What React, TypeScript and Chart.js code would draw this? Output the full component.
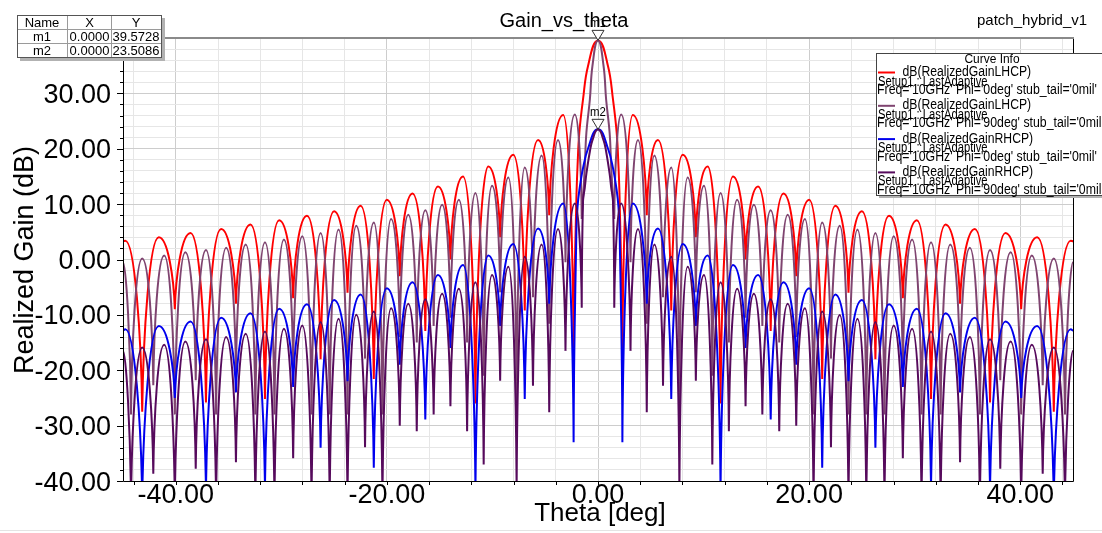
import React, { useEffect, useRef } from "react";
import { Chart, registerables } from "chart.js";

Chart.register(...registerables);

// ---------------- data ----------------
// Phi = 0 deg cut: theta samples (peaks / nulls / main-lobe shoulders)
const thetaPhi0 = [
  -45.0, -44.78, -43.18, -41.61, -40.09, -38.6, -37.14, -35.71, -34.3, -32.92,
  -31.55, -30.21, -28.88, -27.57, -26.28, -25.0, -23.73, -22.48, -21.24, -20.01,
  -18.78, -17.57, -16.36, -15.17, -13.98, -12.79, -11.61, -10.39, -9.27, -8.03,
  -6.94, -5.68, -4.62, -3.3, -2.31, -2.05, -1.94, -1.77, -1.42, -0.95,
  0,
  0.95, 1.42, 1.77, 1.94, 2.05, 2.31, 3.3, 4.62, 5.68, 6.94,
  8.03, 9.27, 10.39, 11.61, 12.79, 13.98, 15.17, 16.36, 17.57, 18.78,
  20.01, 21.24, 22.48, 23.73, 25.0, 26.28, 27.57, 28.88, 30.21, 31.55,
  32.92, 34.3, 35.71, 37.14, 38.6, 40.09, 41.61, 43.18, 44.78, 45.0,
];
// dB(RealizedGainLHCP), Phi = 0deg
const lhcpPhi0 = [
  3.3, 3.4, -27.5, 4.0, -9.0, 4.8, -25.8, 5.5, -8.0, 6.3,
  -25.2, 7.1, -7.0, 7.9, -18.0, 8.7, -6.0, 9.7, -21.6, 10.8,
  -3.0, 11.9, -12.9, 13.2, 0.0, 15.0, -26.0, 16.8, 4.0, 18.9,
  -9.2, 21.6, 8.0, 26.1, -17.0, 10.8, 16.8, 22.9, 28.9, 34.9,
  39.57,
  34.9, 28.9, 22.9, 16.8, 10.8, -17.0, 26.1, 8.0, 21.6, -9.2,
  18.9, 4.0, 16.8, -26.0, 15.0, 0.0, 13.2, -12.9, 11.9, -3.0,
  10.8, -21.6, 9.7, -6.0, 8.7, -18.0, 7.9, -7.0, 7.1, -25.2,
  6.3, -8.0, 5.5, -25.8, 4.8, -9.0, 4.0, -27.5, 3.4, 3.3,
];
// dB(RealizedGainRHCP), Phi = 0deg
const rhcpPhi0 = [
  -12.8, -12.6, -43.5, -12.0, -25.0, -11.2, -41.8, -10.5, -24.0, -9.7,
  -41.2, -8.9, -23.0, -8.1, -34.0, -7.3, -22.0, -6.3, -37.6, -5.2,
  -19.0, -4.1, -28.9, -2.8, -16.0, -1.0, -42.0, 0.7, -12.0, 2.8,
  -25.2, 5.6, -8.0, 10.1, -33.0, 5.0, 9.5, 12.5, 16.5, 20.0,
  23.51,
  20.0, 16.5, 12.5, 9.5, 5.0, -33.0, 10.1, -8.0, 5.6, -25.2,
  2.8, -12.0, 0.7, -42.0, -1.0, -16.0, -2.8, -28.9, -4.1, -19.0,
  -5.2, -37.6, -6.3, -22.0, -7.3, -34.0, -8.1, -23.0, -8.9, -41.2,
  -9.7, -24.0, -10.5, -41.8, -11.2, -25.0, -12.0, -43.5, -12.6, -12.8,
];

// Phi = 90 deg cut
const thetaPhi90 = [
  -45.0, -44.24, -43.18, -42.13, -41.1, -40.09, -39.09, -38.11, -37.14, -36.18,
  -35.23, -34.3, -33.37, -32.46, -31.55, -30.65, -29.76, -28.88, -28.01, -27.14,
  -26.28, -25.42, -24.58, -23.73, -22.9, -22.07, -21.24, -20.42, -19.6, -18.78,
  -17.97, -17.17, -16.36, -15.57, -14.77, -13.98, -13.18, -12.4, -11.61, -10.83,
  -10.04, -9.27, -8.49, -7.71, -6.94, -6.16, -5.34, -4.62, -3.79, -3.08,
  -2.2, -1.54, -1.42, -1.25, -1.1, -0.77, -0.53,
  0,
  0.53, 0.77, 1.1, 1.25, 1.42, 1.54, 2.2,
  3.08, 3.79, 4.62, 5.34, 6.16, 6.94, 7.71, 8.49, 9.27, 10.04,
  10.83, 11.61, 12.4, 13.18, 13.98, 14.77, 15.57, 16.36, 17.17, 17.97,
  18.78, 19.6, 20.42, 21.24, 22.07, 22.9, 23.73, 24.58, 25.42, 26.28,
  27.14, 28.01, 28.88, 29.76, 30.65, 31.55, 32.46, 33.37, 34.3, 35.23,
  36.18, 37.14, 38.11, 39.09, 40.09, 41.1, 42.13, 43.18, 44.24, 45.0,
];
// dB(RealizedGainLHCP), Phi = 90deg
const lhcpPhi90 = [
  -0.5, -28, 0.2, -22.7, 0.7, -28, 1.3, -21.8, 1.7, -28,
  2.1, -20.6, 2.7, -28, 3.1, -28, 3.6, -19.9, 4.2, -28,
  4.8, -28, 5.4, -28, 6.1, -17.9, 6.7, -28, 7.3, -14,
  8.1, -15, 8.9, -12, 9.9, -10.5, 10.8, -15, 12.0, -21,
  13.3, -5.9, 14.8, -26, 16.6, -6.8, 18.8, -11.6, 21.6, -0.5,
  26.2, 7.3, 10.8, 16.8, 22.9, 28.9, 34.9,
  39.57,
  34.9, 28.9, 22.9, 16.8, 10.8, 7.3, 26.2,
  -0.5, 21.6, -11.6, 18.8, -6.8, 16.6, -26, 14.8, -5.9, 13.3,
  -21, 12.0, -15, 10.8, -10.5, 9.9, -12, 8.9, -15, 8.1,
  -14, 7.3, -28, 6.7, -17.9, 6.1, -28, 5.4, -28, 4.8,
  -28, 4.2, -19.9, 3.6, -28, 3.1, -28, 2.7, -20.6, 2.1,
  -28, 1.7, -21.8, 1.3, -28, 0.7, -22.7, 0.2, -28, -0.5,
];
// dB(RealizedGainRHCP), Phi = 90deg
const rhcpPhi90 = [
  -16.5, -44, -15.9, -38.7, -15.4, -44, -14.8, -37.8, -14.4, -44,
  -14.0, -36.6, -13.4, -44, -13.0, -44, -12.5, -35.9, -11.9, -44,
  -11.3, -44, -10.7, -44, -10.0, -33.9, -9.4, -44, -8.8, -30,
  -8.0, -31, -7.2, -28, -6.2, -26.5, -5.3, -31, -4.1, -37,
  -2.8, -21.9, -1.3, -42, 0.5, -22.8, 2.7, -27.6, 5.5, -16.5,
  10.1, -8.7, 10.5, 13.0, 15.5, 19.5, 21.5,
  23.51,
  21.5, 19.5, 15.5, 13.0, 10.5, -8.7, 10.1,
  -16.5, 5.5, -27.6, 2.7, -22.8, 0.5, -42, -1.3, -21.9, -2.8,
  -37, -4.1, -31, -5.3, -26.5, -6.2, -28, -7.2, -31, -8.0,
  -30, -8.8, -44, -9.4, -33.9, -10.0, -44, -10.7, -44, -11.3,
  -44, -11.9, -35.9, -12.5, -44, -13.0, -44, -13.4, -36.6, -14.0,
  -44, -14.4, -37.8, -14.8, -44, -15.4, -38.7, -15.9, -44, -16.5,
];

// axes
const yGridValues = [
  -40, -38, -36, -34, -32, -30, -28, -26, -24, -22, -20, -18, -16, -14, -12, -10, -8, -6, -4, -2,
  0, 2, 4, 6, 8, 10, 12, 14, 16, 18, 20, 22, 24, 26, 28, 30, 32, 34, 36, 38, 40,
];
const xGridValues = [-44, -40, -36, -32, -28, -24, -20, -16, -12, -8, -4, 0, 4, 8, 12, 16, 20, 24, 28, 32, 36, 40, 44];
const yLabelValues = [30, 20, 10, 0, -10, -20, -30, -40];
const xLabelValues = [-40, -20, 0, 20, 40];

// markers
const markerNames = ["m1", "m2"];
const markerTheta = [0, 0];
const markerGain = [39.5728, 23.5086];

// legend text
const curveNames = [
  "dB(RealizedGainLHCP)",
  "dB(RealizedGainLHCP)",
  "dB(RealizedGainRHCP)",
  "dB(RealizedGainRHCP)",
];
const curveSetups = ["Setup1 : LastAdaptive", "Setup1 : LastAdaptive", "Setup1 : LastAdaptive", "Setup1 : LastAdaptive"];
const curveConditions = [
  "Freq='10GHz' Phi='0deg' stub_tail='0mil'",
  "Freq='10GHz' Phi='90deg' stub_tail='0mil'",
  "Freq='10GHz' Phi='0deg' stub_tail='0mil'",
  "Freq='10GHz' Phi='90deg' stub_tail='0mil'",
];

// ---------------- styles ----------------
const COLORS = ["#ff0000", "#7f4470", "#0000ee", "#560a5c"];
const FONT = "'Liberation Sans', Arial, Helvetica, sans-serif";

function drawText(
  ctx: CanvasRenderingContext2D,
  s: string,
  x: number,
  y: number,
  size: number,
  align: CanvasTextAlign = "left",
  sx = 1,
  color = "#000"
) {
  ctx.save();
  ctx.font = `${size}px ${FONT}`;
  ctx.fillStyle = color;
  ctx.textBaseline = "alphabetic";
  ctx.textAlign = align;
  ctx.translate(x, y);
  ctx.scale(sx, 1);
  ctx.fillText(s, 0, 0);
  ctx.restore();
}

// Control points: round lobe tops, sharp cusps at the nulls (dB pattern look)
const lobeCurvePlugin = {
  id: "lobeCurves",
  beforeDatasetDraw(chart: any, args: any) {
    const meta = args.meta;
    const pts = meta.data as any[];
    const n = pts.length;
    for (let i = 0; i < n; i++) {
      const p = pts[i];
      const prev = pts[i - 1];
      const next = pts[i + 1];
      if (!prev || !next) {
        const o = prev || next;
        const h = Math.abs(o.x - p.x) * 0.4;
        p.cp1x = p.x - h;
        p.cp1y = p.y;
        p.cp2x = p.x + h;
        p.cp2y = p.y;
        continue;
      }
      const isPeak = p.y <= prev.y && p.y <= next.y;
      const isNull = p.y >= prev.y && p.y >= next.y;
      if (isPeak) {
        p.cp1x = p.x - 0.55 * (p.x - prev.x);
        p.cp1y = p.y;
        p.cp2x = p.x + 0.55 * (next.x - p.x);
        p.cp2y = p.y;
      } else if (isNull) {
        p.cp1x = p.x - 0.06 * (p.x - prev.x);
        p.cp1y = p.y - 0.45 * (p.y - prev.y);
        p.cp2x = p.x + 0.06 * (next.x - p.x);
        p.cp2y = p.y - 0.45 * (p.y - next.y);
      } else {
        const dx = next.x - prev.x;
        const dy = next.y - prev.y;
        const d01 = Math.hypot(p.x - prev.x, p.y - prev.y);
        const d12 = Math.hypot(next.x - p.x, next.y - p.y);
        const s = d01 + d12 || 1;
        p.cp1x = p.x - (0.4 * dx * d01) / s;
        p.cp1y = p.y - (0.4 * dy * d01) / s;
        p.cp2x = p.x + (0.4 * dx * d12) / s;
        p.cp2y = p.y + (0.4 * dy * d12) / s;
      }
    }
    if (meta.dataset) meta.dataset._pointsUpdated = true;
  },
};

const decorPlugin = {
  id: "hfssDecor",
  afterDraw(chart: any) {
    const ctx: CanvasRenderingContext2D = chart.ctx;
    const a = chart.chartArea;
    const xs = chart.scales.x;
    const ys = chart.scales.y;

    ctx.save();
    // plot frame
    ctx.strokeStyle = "#000";
    ctx.lineWidth = 1;
    ctx.beginPath();
    ctx.moveTo(a.left + 0.5, a.top);
    ctx.lineTo(a.left + 0.5, a.bottom + 0.5);
    ctx.lineTo(a.right + 0.5, a.bottom + 0.5);
    ctx.lineTo(a.right + 0.5, a.top);
    ctx.stroke();
    ctx.strokeStyle = "#8a8a8a";
    ctx.lineWidth = 2;
    ctx.beginPath();
    ctx.moveTo(a.left, a.top);
    ctx.lineTo(a.right + 1, a.top);
    ctx.stroke();

    // ticks
    ctx.strokeStyle = "#000";
    ctx.lineWidth = 1;
    ctx.beginPath();
    for (const v of yGridValues) {
      const py = Math.round(ys.getPixelForValue(v)) + 0.5;
      const len = v % 10 === 0 ? 6 : 3;
      ctx.moveTo(a.left - len, py);
      ctx.lineTo(a.left, py);
    }
    for (const v of xGridValues) {
      const px = Math.round(xs.getPixelForValue(v)) + 0.5;
      ctx.moveTo(px, a.bottom);
      ctx.lineTo(px, a.bottom + 4);
    }
    ctx.stroke();
    ctx.restore();

    // tick labels
    for (const v of yLabelValues) {
      const py = ys.getPixelForValue(v);
      drawText(ctx, v.toFixed(2), 111, py + 9.6, 27, "right");
    }
    for (const v of xLabelValues) {
      const px = xs.getPixelForValue(v);
      drawText(ctx, v.toFixed(2), px, 503, 27, "center");
    }

    // axis titles
    drawText(ctx, "Theta [deg]", 600, 521, 26, "center");
    ctx.save();
    ctx.translate(33, 260);
    ctx.rotate(-Math.PI / 2);
    drawText(ctx, "Realized Gain (dB)", 0, 0, 27, "center");
    ctx.restore();

    // title / project
    drawText(ctx, "Gain_vs_theta", 564, 27, 20, "center");
    drawText(ctx, "patch_hybrid_v1", 977, 25, 15, "left");

    // markers
    for (let i = 0; i < markerNames.length; i++) {
      const px = xs.getPixelForValue(markerTheta[i]);
      const py = ys.getPixelForValue(markerGain[i]);
      ctx.save();
      ctx.beginPath();
      ctx.moveTo(px, py);
      ctx.lineTo(px - 6, py - 10);
      ctx.lineTo(px + 6, py - 10);
      ctx.closePath();
      ctx.fillStyle = "#fff";
      ctx.fill();
      ctx.strokeStyle = "#333";
      ctx.lineWidth = 1;
      ctx.stroke();
      ctx.restore();
      drawText(ctx, markerNames[i], px, py - 13, 12, "center", 0.95);
    }

    // marker table
    ctx.save();
    const tx = 17, ty = 15, tw = 144, th = 42;
    ctx.fillStyle = "#b2b2b2";
    ctx.fillRect(tx + 3, ty + 3, tw + 1, th + 1);
    ctx.fillStyle = "#fff";
    ctx.fillRect(tx, ty, tw, th);
    ctx.strokeStyle = "#9a9a9a";
    ctx.lineWidth = 1;
    ctx.beginPath();
    ctx.moveTo(67.5, ty);
    ctx.lineTo(67.5, ty + th);
    ctx.moveTo(111.5, ty);
    ctx.lineTo(111.5, ty + th);
    ctx.moveTo(tx, 29.5);
    ctx.lineTo(tx + tw, 29.5);
    ctx.moveTo(tx, 43.5);
    ctx.lineTo(tx + tw, 43.5);
    ctx.stroke();
    ctx.strokeStyle = "#555";
    ctx.strokeRect(tx + 0.5, ty + 0.5, tw, th);
    ctx.restore();
    drawText(ctx, "Name", 42, 26.5, 13, "center");
    drawText(ctx, "X", 89.5, 26.5, 13, "center");
    drawText(ctx, "Y", 136, 26.5, 13, "center");
    for (let i = 0; i < markerNames.length; i++) {
      const by = 40.5 + i * 14;
      drawText(ctx, markerNames[i], 42, by, 13, "center");
      drawText(ctx, markerTheta[i].toFixed(4), 89.5, by, 13, "center");
      drawText(ctx, markerGain[i].toFixed(4), 136, by, 13, "center");
    }

    // legend box
    ctx.save();
    const lx = 876, ly = 53, lw = 240, lh = 142;
    ctx.fillStyle = "#b2b2b2";
    ctx.fillRect(lx + 3, ly + 3, lw, lh);
    ctx.fillStyle = "#fff";
    ctx.fillRect(lx, ly, lw, lh);
    ctx.strokeStyle = "#444";
    ctx.lineWidth = 1;
    ctx.strokeRect(lx + 0.5, ly + 0.5, lw, lh);
    ctx.restore();
    drawText(ctx, "Curve Info", 992, 62.5, 13, "center", 0.92);
    for (let e = 0; e < curveNames.length; e++) {
      const off = e * 33.3;
      ctx.save();
      ctx.strokeStyle = COLORS[e];
      ctx.lineWidth = 2;
      ctx.beginPath();
      ctx.moveTo(878, 72.5 + off);
      ctx.lineTo(895, 72.5 + off);
      ctx.stroke();
      ctx.restore();
      drawText(ctx, curveNames[e], 902.5, 76 + off, 14, "left", 0.87);
      drawText(ctx, curveSetups[e], 878, 85.5 + off, 14, "left", 0.8);
      drawText(ctx, curveConditions[e], 877, 94 + off, 14, "left", 0.88);
    }

    // faint window edge at the bottom
    ctx.save();
    ctx.strokeStyle = "#e4e4e4";
    ctx.lineWidth = 1;
    ctx.beginPath();
    ctx.moveTo(0, 530.5);
    ctx.lineTo(1102, 530.5);
    ctx.stroke();
    ctx.restore();
  },
};

function pts(theta: number[], gain: number[]) {
  return theta.map((t, i) => ({ x: t, y: gain[i] }));
}

export default function App() {
  const ref = useRef<HTMLCanvasElement | null>(null);

  useEffect(() => {
    const canvas = ref.current;
    if (!canvas) return;
    const common = { borderWidth: 2, pointRadius: 0, tension: 0.4, fill: false };
    const chart = new Chart(canvas, {
      type: "line",
      data: {
        datasets: [
          { label: curveNames[0], data: pts(thetaPhi0, lhcpPhi0), borderColor: COLORS[0], order: 4, ...common },
          { label: curveNames[1], data: pts(thetaPhi90, lhcpPhi90), borderColor: COLORS[1], order: 3, ...common },
          { label: curveNames[2], data: pts(thetaPhi0, rhcpPhi0), borderColor: COLORS[2], order: 2, ...common },
          { label: curveNames[3], data: pts(thetaPhi90, rhcpPhi90), borderColor: COLORS[3], order: 1, ...common },
        ] as any,
      },
      options: {
        responsive: false,
        animation: false,
        devicePixelRatio: 1,
        events: [],
        layout: { padding: { left: 0, right: 29, top: 38, bottom: 0 } },
        plugins: { legend: { display: false }, tooltip: { enabled: false }, title: { display: false } },
        scales: {
          x: {
            type: "linear",
            min: -45,
            max: 45,
            afterBuildTicks: (s: any) => {
              s.ticks = xGridValues.map((v) => ({ value: v }));
            },
            afterFit: (s: any) => {
              s.height = 52;
            },
            ticks: { display: false },
            border: { display: false },
            grid: {
              drawTicks: false,
              lineWidth: 1,
              color: (c: any) => (c.tick && c.tick.value % 20 === 0 ? "#cdcdcd" : "#e6e6e6"),
            },
          },
          y: {
            type: "linear",
            min: -40,
            max: 40,
            afterBuildTicks: (s: any) => {
              s.ticks = yGridValues.map((v) => ({ value: v }));
            },
            afterFit: (s: any) => {
              s.width = 123;
            },
            ticks: { display: false },
            border: { display: false },
            grid: {
              drawTicks: false,
              lineWidth: 1,
              color: (c: any) => (c.tick && c.tick.value % 10 === 0 ? "#cdcdcd" : "#e6e6e6"),
            },
          },
        },
      } as any,
      plugins: [lobeCurvePlugin, decorPlugin],
    });
    return () => chart.destroy();
  }, []);

  return (
    <div style={{ position: "fixed", left: 0, top: 0, width: 1102, height: 533, background: "#fff" }}>
      <canvas ref={ref} width={1102} height={533} style={{ display: "block", width: 1102, height: 533 }} />
    </div>
  );
}
